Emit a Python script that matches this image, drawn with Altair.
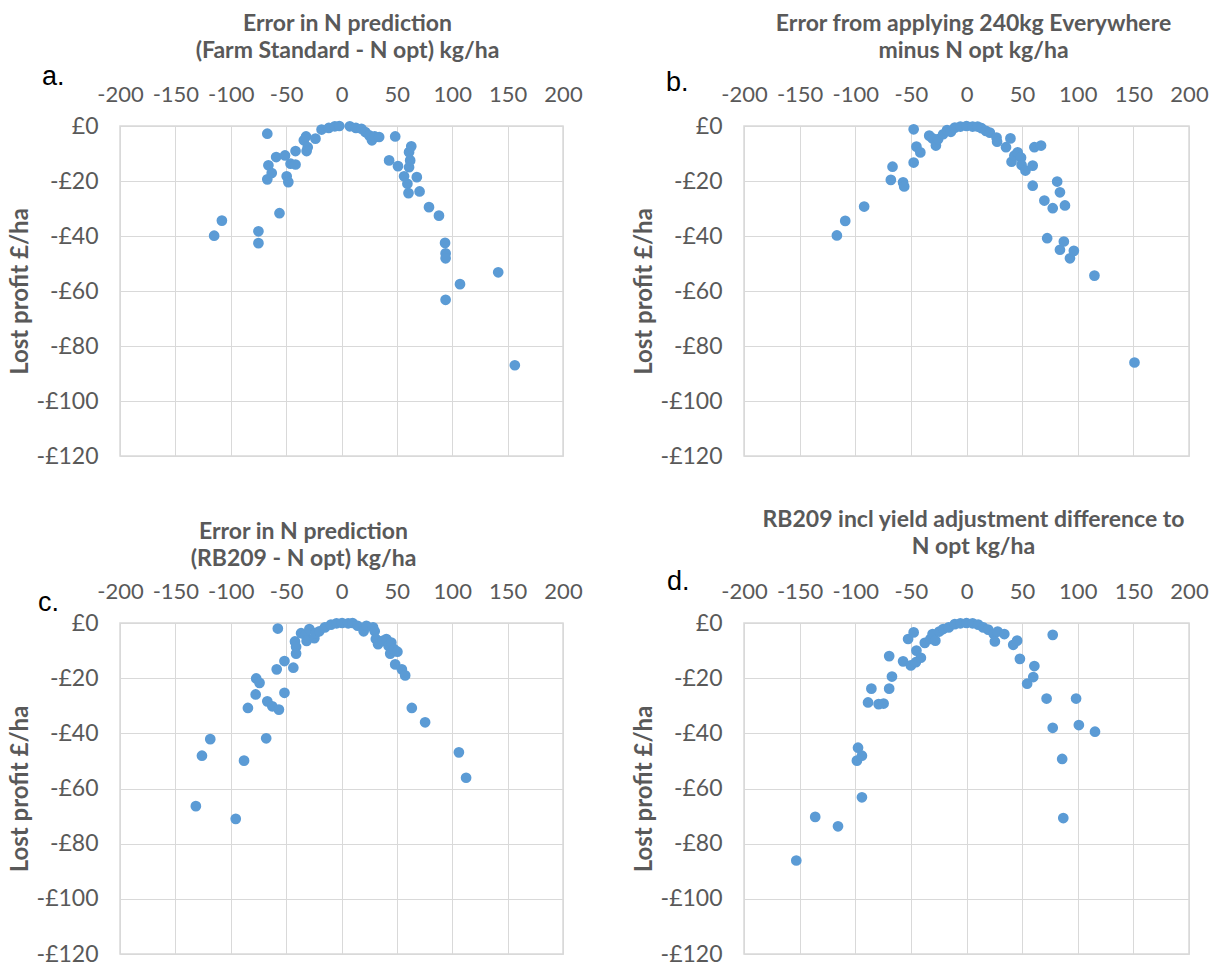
import altair as alt
import pandas as pd

# ---- Panel a: Farm Standard minus N opt ----
a_x = [-67, -115, -108, -75, -75, -56, -66, -67, -63, -59, -51, -49.5, -48, -46, -41.5, -41.5,
       -34, -32, -30.5, -31.5, -23.5, -18, -11.5, -6, -2, 7.5, 13, 18, 21.5, 25, 27.5, 30, 34,
       48.5, 43, 51, 56.5, 59.5, 60.5, 61, 62, 61, 63, 68, 70.5, 79, 88, 93.5, 94, 94, 94, 107,
       141.5, 156.5]
a_y = [-2.8, -39.9, -34.4, -38.3, -42.6, -31.7, -14.3, -19.4, -17.1, -11.3, -10.7, -18.3, -20.4,
       -13.7, -14, -9.1, -5.2, -3.8, -7.7, -9.1, -4.6, -1.3, -0.7, -0.1, 0, -0.1, -0.7, -1, -2.2,
       -3.4, -5.2, -3.8, -4, -3.8, -12.5, -14.6, -18.3, -21, -24.4, -15, -12.5, -9.5, -7.4, -18.6,
       -23.8, -29.5, -32.6, -42.5, -46.3, -48.1, -63.2, -57.5, -53.2, -87]

# ---- Panel b: 240 kg everywhere minus N opt ----
b_x = [-47.5, -116.5, -109, -92, -66.5, -68, -57, -56, -47.5, -45, -41.5, -33.5, -30.5, -27.5,
       -25.5, -21, -17.5, -14, -10.5, -5.5, 0, 5.5, 10, 13.5, 17.5, 21, 27, 27.5, 35.5, 39.5,
       40.5, 43, 46, 49, 49.5, 53, 59.5, 59.5, 61, 67, 70, 77.5, 81.5, 84, 88.5, 72.5, 84, 87.5,
       93, 96.5, 115, 151]
b_y = [-1.2, -39.8, -34.5, -29.3, -14.8, -19.6, -20.5, -22, -13.3, -7.5, -9.6, -3.5, -4.5, -7.1,
       -4.8, -3, -1.5, -2.1, -0.6, -0.2, 0, -0.2, -0.2, -0.8, -1.8, -2.4, -4.2, -5.7, -7.7, -4.5,
       -13, -10.8, -9.6, -11.5, -14.2, -16.2, -14.4, -21.7, -7.7, -7.1, -27.1, -29.9, -20.2,
       -24.1, -28.9, -40.8, -45, -42, -48.1, -45.4, -54.4, -86]

# ---- Panel c: RB209 minus N opt ----
c_x = [-57.5, -131.5, -126, -118.5, -95.5, -88, -84.5, -77.5, -77, -74, -68, -67, -62.5, -56.5,
       -58.5, -51.5, -51.5, -43.5, -42, -41, -41, -36.5, -32.5, -31.5, -29, -24.5, -23.5, -20,
       -15, -9.5, -4.5, 0.5, 6, 10, 14.5, 20, 22.5, 28.5, 30, 31, 33, 37, 40.5, 42.5, 45, 44,
       47.5, 50.5, 48.5, 54.5, 57.5, 63.5, 75.5, 106, 112.5]
c_y = [-2, -66.4, -48.1, -42.1, -71, -49.9, -30.8, -25.9, -20.1, -21.7, -41.8, -28.4, -30.2,
       -31.4, -16.8, -13.8, -25.3, -16.2, -6.7, -8.6, -11.1, -3.7, -4.4, -6.5, -2.2, -5.5, -3.7,
       -3, -1.6, -0.6, -0.1, 0, -0.1, 0, -1, -3, -1, -1.6, -3, -5.8, -7.7, -6.5, -5.8, -8.3,
       -7.1, -11.1, -9.5, -10.4, -15, -16.8, -19, -30.8, -36, -46.9, -56.1]

# ---- Panel d: RB209 with yield adjustment minus N opt ----
d_x = [-153, -136, -115.5, -97.5, -98.5, -94, -94, -88.5, -85.5, -79, -74.5, -69.5, -69.5, -67,
       -57, -52.5, -50, -47.5, -45, -45.5, -41, -37.5, -32.5, -30.5, -28, -24.5, -21, -16,
       -10.5, -5.5, 0, 5.5, 10.5, 15, 19.5, 24.5, 25.5, 28, 34, 42, 45.5, 48, 54.5, 60, 61, 72,
       77.5, 77.5, 86, 87, 98.5, 101, 115.5]
d_y = [-86.1, -70.3, -73.7, -45.2, -49.9, -48.1, -63.2, -28.8, -23.8, -29.4, -29.2, -12, -23.8,
       -19.4, -13.9, -5.8, -15.4, -3.4, -10, -14.2, -12.6, -7.2, -5.8, -4, -6.4, -3.1, -2.2,
       -1.6, -0.4, -0.1, 0, -0.1, -0.6, -1.6, -2.4, -4, -6.7, -3.1, -4, -7.9, -6.4, -13, -22,
       -19.6, -15.6, -27.4, -4.3, -38, -49.3, -70.7, -27.4, -37, -39.4]

x_ticks = [-200, -150, -100, -50, 0, 50, 100, 150, 200]
y_ticks = [0, -20, -40, -60, -80, -100, -120]

FONT = "Lato"
GREY = "#595959"
GRID = "#D9D9D9"
BLUE = "#5B9BD5"


def panel(xs, ys, heading, head_x, head_y, letter, let_x, let_y, w, h):
    df = pd.DataFrame({"x": xs, "y": ys})
    pts = alt.Chart(df).mark_circle(size=115, color=BLUE, opacity=1).encode(
        x=alt.X("x:Q",
                scale=alt.Scale(domain=[-200, 200], nice=False, zero=False),
                axis=alt.Axis(orient="top", values=x_ticks, grid=True, gridColor=GRID,
                              gridWidth=1, domain=False, ticks=False, tickSize=0,
                              labelPadding=20, labelFont=FONT, labelFontSize=22,
                              labelColor=GREY, labelFlush=False,
                              labelExpr="datum.value < 0 ? '-' + (-datum.value) : '' + datum.value",
                              title=heading, titleX=head_x, titleY=head_y,
                              titleAlign="center", titleBaseline="alphabetic",
                              titleAngle=0, titleFont=FONT, titleFontSize=23,
                              titleFontWeight="bold", titleColor=GREY,
                              titleLineHeight=27)),
        y=alt.Y("y:Q",
                scale=alt.Scale(domain=[-120, 0], nice=False, zero=False),
                axis=alt.Axis(values=y_ticks, grid=True, gridColor=GRID, gridWidth=1,
                              domain=False, ticks=False, tickSize=0, labelPadding=22,
                              labelFont=FONT, labelFontSize=23, labelColor=GREY,
                              labelExpr="datum.value < 0 ? '-£' + (-datum.value) : '£' + datum.value",
                              title="Lost profit £/ha", titleX=-100, titleY=h / 2,
                              titleAngle=270, titleAlign="center", titleBaseline="middle",
                              titleFont=FONT, titleFontSize=24, titleFontWeight="bold",
                              titleColor=GREY)),
    )
    tag = alt.Chart(pd.DataFrame({"t": [letter]})).mark_text(
        align="left", baseline="alphabetic", font="Liberation Sans", fontSize=27,
        color="black"
    ).encode(text="t:N", x=alt.value(let_x), y=alt.value(let_y))
    return alt.layer(pts, tag).properties(width=w, height=h)


pa = panel(a_x, a_y, ["Error in N prediction", "(Farm Standard - N opt) kg/ha"],
           227, -96, "a.", -78, -41, 443, 330)
pb = panel(b_x, b_y, ["Error from applying 240kg Everywhere", "minus N opt kg/ha"],
           229, -96, "b.", -78, -35, 445, 330)
pc = panel(c_x, c_y, ["Error in N prediction", "(RB209 - N opt) kg/ha"],
           183, -85, "c.", -82, -12, 443, 331)
pd_ = panel(d_x, d_y, ["RB209 incl yield adjustment difference to", "N opt kg/ha"],
            229, -97, "d.", -77, -33, 445, 331)

chart = alt.concat(pa, pb, pc, pd_, columns=2, spacing={"row": 167, "column": 181},
                   bounds="flush").properties(
    padding={"left": 7, "top": 11, "right": 5, "bottom": 2},
    background="white",
).configure_view(stroke=GRID, strokeWidth=1.5)

chart.save("out.html", embed_options={"renderer": "svg", "actions": False})
